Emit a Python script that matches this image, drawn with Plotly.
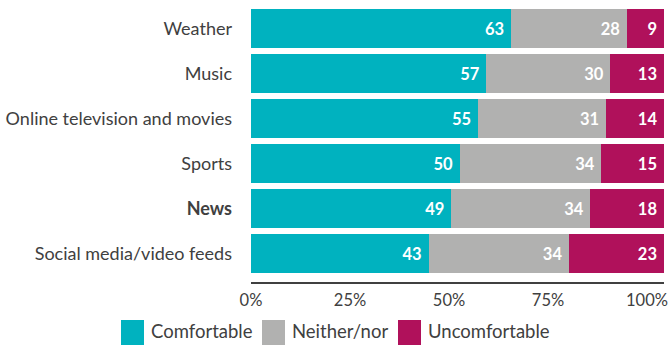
import plotly.graph_objects as go

categories = ["Weather", "Music", "Online television and movies", "Sports", "News", "Social media/video feeds"]
category_labels = ["Weather", "Music", "Online television and movies", "Sports", "<b>News</b>", "Social media/video feeds"]
comfortable = [63, 57, 55, 50, 49, 43]
neither = [28, 30, 31, 34, 34, 34]
uncomfortable = [9, 13, 14, 15, 18, 23]
series_names = ["Comfortable", "Neither/nor", "Uncomfortable"]
colors = ["#00B2BF", "#B1B1B0", "#B0115B"]
tick_vals = [0, 25, 50, 75, 100]
tick_text = ["0%", "25%", "50%", "75%", "100%"]

FONT = "Lato"
W, H = 670, 345
L, R, T, B = 251, 6, 6, 63
pw, ph = W - L - R, H - T - B

fig = go.Figure()
for name, vals, col in zip(series_names, [comfortable, neither, uncomfortable], colors):
    fig.add_trace(go.Bar(
        y=categories, x=vals, name=name, orientation="h",
        marker=dict(color=col, line=dict(width=0)),
        text=[f"{v}\u00a0" for v in vals], textposition="inside", insidetextanchor="end",
        textfont=dict(color="white", size=16.5, family=FONT, weight="bold"),
        showlegend=False, hoverinfo="skip",
    ))
# empty trace so the label axis is drawn
fig.add_trace(go.Scatter(x=[None], y=[None], xaxis="x2", yaxis="y", showlegend=False, hoverinfo="skip"))

fig.update_layout(
    width=W, height=H, margin=dict(l=L, r=R, t=T, b=B, autoexpand=False),
    barmode="stack", barnorm="percent", bargap=0.133,
    plot_bgcolor="rgba(0,0,0,0)", paper_bgcolor="white",
    font=dict(family=FONT, color="#404040"),
    xaxis=dict(range=[0, 100], showline=True, linecolor="#404040", linewidth=1.5,
               showgrid=False, zeroline=False, showticklabels=False, ticks="", fixedrange=True,
               automargin=False),
    xaxis2=dict(domain=[0, 396 / 413], anchor="y", range=[0, 100], tickvals=tick_vals, ticktext=tick_text,
                showgrid=False, zeroline=False, showline=False, ticks="", ticklabelstandoff=6,
                automargin=False, tickfont=dict(size=16.5, color="#404040", family=FONT)),
    yaxis=dict(categoryorder="array", categoryarray=categories, range=[5.63, -0.5],
               tickvals=categories, ticktext=category_labels, ticks="", showgrid=False,
               automargin=False,
               ticklabelstandoff=18, tickfont=dict(size=18, color="#404040", family=FONT)),
)

# legend drawn as swatches + labels
legend_x = [121, 262, 398]
for x0, name, col in zip(legend_x, series_names, colors):
    fig.add_shape(type="rect", xref="paper", yref="paper",
                  x0=(x0 - L) / pw, x1=(x0 + 23 - L) / pw,
                  y0=(T + ph - 345) / ph, y1=(T + ph - 320) / ph,
                  fillcolor=col, line=dict(width=0))
    fig.add_annotation(xref="paper", yref="paper", x=(x0 + 28 - L) / pw, y=(T + ph - 331) / ph,
                       text=name, showarrow=False, xanchor="left", yanchor="middle",
                       font=dict(size=18.5, color="#404040", family=FONT))

fig.write_html("out.html", config={"displayModeBar": False},
               post_script="document.body.style.margin='0px';")
